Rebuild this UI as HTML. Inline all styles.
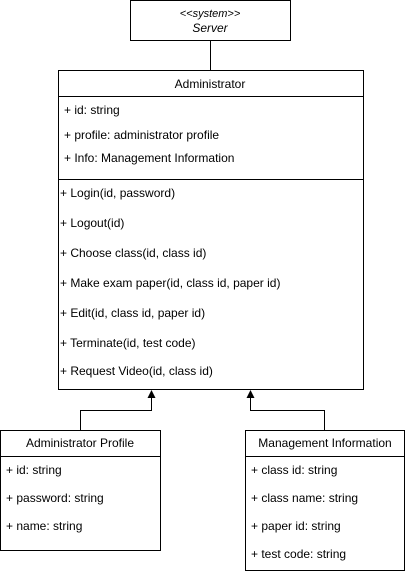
<!DOCTYPE html>
<html><head><meta charset="utf-8"><style>body{margin:0;background:#fff}svg{display:block}text{font-family:"Liberation Sans",sans-serif;font-size:12px;fill:#000}</style></head><body>
<svg width="405" height="574" viewBox="0 0 405 574">
<g fill="none" stroke="#000" stroke-width="1">
<rect x="130.5" y="0.5" width="160" height="40"/>
<line x1="210.5" y1="40" x2="210.5" y2="70"/>
<rect x="58.5" y="70.5" width="305" height="319"/>
<line x1="58" y1="96.5" x2="364" y2="96.5"/>
<line x1="58" y1="179.5" x2="364" y2="179.5"/>
<polyline points="80.5,430 80.5,410.5 151.5,410.5 151.5,396"/>
<polyline points="324.5,430 324.5,410.5 250.5,410.5 250.5,396"/>
<rect x="0.5" y="430.5" width="160" height="120"/>
<line x1="0" y1="456.5" x2="161" y2="456.5"/>
<rect x="245.5" y="430.5" width="159" height="140"/>
<line x1="245" y1="456.5" x2="405" y2="456.5"/>
</g>
<polygon points="151.5,390 147.5,398 155.5,398" fill="#000"/>
<polygon points="250.5,390 246.5,398 254.5,398" fill="#000"/>
<text x="210" y="17" text-anchor="middle" font-style="italic" style="font-size:11px;font-style:italic">&lt;&lt;system&gt;&gt;</text>
<text x="210" y="32" text-anchor="middle" style="font-style:italic">Server</text>
<text x="210" y="88" text-anchor="middle">Administrator</text>
<text x="64" y="114">+ id: string</text>
<text x="64" y="139">+ profile: administrator profile</text>
<text x="64" y="162">+ Info: Management Information</text>
<text x="60" y="197">+ Login(id, password)</text>
<text x="60" y="227">+ Logout(id)</text>
<text x="60" y="257">+ Choose class(id, class id)</text>
<text x="60" y="287">+ Make exam paper(id, class id, paper id)</text>
<text x="60" y="317">+ Edit(id, class id, paper id)</text>
<text x="60" y="347">+ Terminate(id, test code)</text>
<text x="60" y="375">+ Request Video(id, class id)</text>
<text x="80" y="447" text-anchor="middle">Administrator Profile</text>
<text x="6" y="474">+ id: string</text>
<text x="6" y="502">+ password: string</text>
<text x="6" y="530">+ name: string</text>
<text x="325" y="447" text-anchor="middle">Management Information</text>
<text x="251" y="474">+ class id: string</text>
<text x="251" y="502">+ class name: string</text>
<text x="251" y="530">+ paper id: string</text>
<text x="251" y="558">+ test code: string</text>
</svg>
</body></html>
